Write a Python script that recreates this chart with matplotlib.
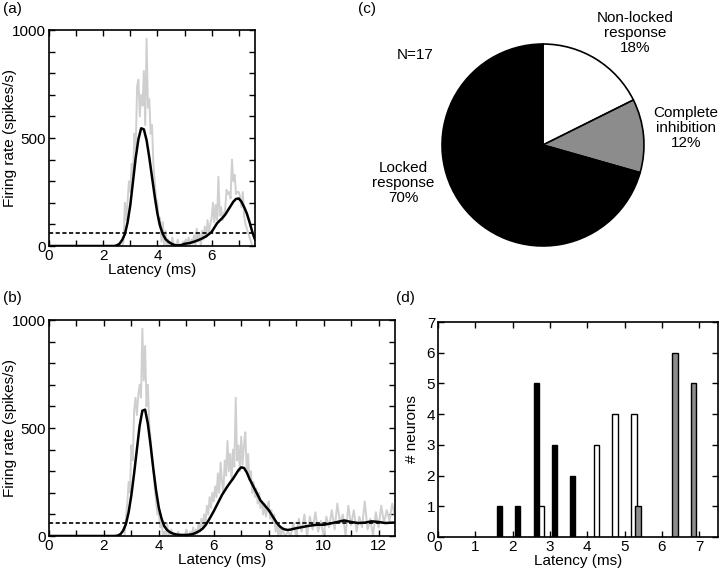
import numpy as np
import matplotlib
matplotlib.use("Agg")
import matplotlib.pyplot as plt
from matplotlib.ticker import MultipleLocator

plt.rcParams['font.family'] = ['Liberation Sans', 'DejaVu Sans']
plt.rcParams['font.size'] = 11

# ---------------- data ----------------
threshold = 60  # spikes/s (dashed line)

# (a) raw PSTH (gray), 0.05 ms bins starting at 2.70 ms
gray_a_start = 2.70
gray_a_vals = [0, 20, 200, 120, 210, 300, 250, 380, 330, 520, 450, 740, 770, 600, 700, 650,
               810, 560, 960, 640, 680, 520, 560, 380, 300, 220, 200, 100, 130, 20, 110, 0,
               70, 0, 30, 0, 0, 40, 0, 0, 0, 30, 0, 0, 0, 20, 0, 30, 0, 40, 0, 30, 10, 50,
               0, 80, 20, 60, 0, 70, 30, 90, 40, 120, 60, 100, 130, 200, 110, 190, 120, 320,
               140, 180, 120, 150, 170, 260, 240, 250, 220, 400, 300, 330, 240, 250, 250, 230,
               180, 250, 140, 100, 80, 60, 40, 20, 0, 0, 0]

# (a) smoothed rate (black)
smooth_a_t = [0, 2.4, 2.5, 2.6, 2.7, 2.8, 2.9, 3.0, 3.1, 3.2, 3.3, 3.4, 3.5, 3.6, 3.7, 3.8,
              3.9, 4.0, 4.1, 4.2, 4.3, 4.4, 4.5, 4.6, 4.7, 4.8, 4.9, 5.0, 5.2, 5.4, 5.6,
              5.8, 6.0, 6.1, 6.2, 6.3, 6.4, 6.5, 6.6, 6.7, 6.8, 6.9, 7.0, 7.1, 7.2, 7.3,
              7.4, 7.5, 7.6]
smooth_a_v = [0, 0, 3, 10, 28, 55, 110, 190, 300, 410, 495, 545, 540, 490, 410, 320,
              230, 150, 92, 55, 32, 20, 12, 6, 3, 3, 5, 10, 14, 22, 32,
              45, 65, 85, 105, 118, 130, 145, 165, 185, 205, 218, 220, 205, 180, 150,
              110, 65, 30]

# (b) raw PSTH (gray)
gray_b1_start = 2.70  # 0.05 ms bins
gray_b1_vals = [0, 0, 80, 150, 250, 200, 420, 350, 580, 640, 560, 650, 700, 640, 960, 720,
                880, 600, 700, 520, 450, 360, 300, 220, 160, 100, 110, 40, 70, 0, 20, 0,
                60, 0, 0, 30, 0, 0, 0, 0, 20, 0, 0, 0, 0, 0, 30, 0, 0, 20, 0, 40, 0, 30,
                10, 60, 20, 80, 40, 100, 60, 140, 100, 180, 130, 200, 160, 230, 180, 290,
                200, 340, 250, 200, 350, 280, 440, 300, 380, 260, 400, 320, 640, 350, 420,
                300, 460, 330, 420, 480, 300, 380, 260, 300, 200, 250, 180, 220, 150, 200,
                130, 160, 100, 150, 90, 130, 160, 80, 120, 60, 100, 20, 60, 0, 40, 0]
gray_b2_start = 8.5  # 0.1 ms bins
gray_b2_vals = [30, 0, 20, 0, 60, 0, 80, 20, 100, 0, 90, 30, 110, 20, 70, 0, 90, 40, 120,
                30, 150, 60, 100, 0, 140, 50, 120, 20, 90, 40, 160, 30, 80, 0, 110, 40, 140,
                60, 120, 70, 150, 90]

# (b) smoothed rate (black)
smooth_b_t = [0, 2.4, 2.5, 2.6, 2.7, 2.8, 2.9, 3.0, 3.1, 3.2, 3.3, 3.4, 3.5, 3.6, 3.7, 3.8,
              3.9, 4.0, 4.1, 4.2, 4.3, 4.4, 4.5, 4.6, 4.7, 4.8, 4.9, 5.0, 5.1, 5.2, 5.3,
              5.4, 5.5, 5.6, 5.7, 5.8, 5.9, 6.0, 6.1, 6.2, 6.3, 6.4, 6.5, 6.6, 6.7, 6.8,
              6.9, 7.0, 7.1, 7.2, 7.3, 7.4, 7.5, 7.6, 7.7, 7.8, 7.9, 8.0, 8.1, 8.2, 8.3,
              8.4, 8.5, 8.6, 8.7, 8.8, 8.9, 9.0, 9.25, 9.5, 9.75, 10.0, 10.25, 10.5, 10.75,
              11.0, 11.25, 11.5, 11.75, 12.0, 12.25, 12.5, 12.6]
smooth_b_v = [0, 0, 2, 8, 25, 55, 110, 190, 290, 400, 510, 580, 585, 520, 420, 310,
              210, 130, 80, 45, 28, 18, 12, 8, 6, 5, 5, 5, 6, 8, 12,
              18, 25, 35, 50, 70, 92, 115, 140, 165, 190, 210, 230, 248, 265, 285,
              305, 318, 315, 295, 265, 240, 215, 190, 165, 150, 135, 120, 100, 80, 60,
              45, 35, 30, 28, 30, 33, 36, 42, 48, 52, 52, 58, 65, 72,
              65, 60, 62, 68, 65, 60, 62, 62]

# (c) pie
pie_labels = ["Non-locked\nresponse\n18%", "Complete\ninhibition\n12%", "Locked\nresponse\n70%"]
pie_counts = [3, 2, 12]
pie_colors = ["white", "#8c8c8c", "black"]
n_total = 17

# (d) latency histogram
lat_black = [1.64, 2.13, 2.63, 3.13, 3.61]
cnt_black = [1, 1, 5, 3, 2]
lat_white = [2.77, 4.25, 4.74, 5.25]
cnt_white = [1, 3, 4, 4]
lat_gray = [5.36, 6.35, 6.85]
cnt_gray = [1, 6, 5]
bar_width = 0.14

# ---------------- figure ----------------
W, H = 720, 570
fig = plt.figure(figsize=(7.2, 5.7), dpi=100)

def rect(l, t, r, b):
    return [l / W, 1 - b / H, (r - l) / W, (b - t) / H]

def style(ax):
    ax.tick_params(direction='in', top=True, right=True, length=4, width=1,
                   which='both', labelsize=11, pad=2)
    for s in ax.spines.values():
        s.set_linewidth(1.2)

GRAY = "#cfcfcf"

# (a)
ax_a = fig.add_axes(rect(49, 30, 255, 246))
ga_t = gray_a_start + 0.05 * np.arange(len(gray_a_vals))
ax_a.plot(np.concatenate([[0], ga_t]), np.concatenate([[0], gray_a_vals]), color=GRAY, lw=1.4)
ax_a.axhline(threshold, color='black', ls=(0, (2.5, 1.5)), lw=1.2)
ax_a.plot(smooth_a_t, smooth_a_v, color='black', lw=1.8)
ax_a.set_xlim(0, 7.6)
ax_a.set_ylim(0, 1000)
ax_a.xaxis.set_major_locator(MultipleLocator(2))
ax_a.xaxis.set_minor_locator(MultipleLocator(1))
ax_a.yaxis.set_major_locator(MultipleLocator(500))
ax_a.yaxis.set_minor_locator(MultipleLocator(100))
ax_a.set_xlabel("Latency (ms)", labelpad=0)
ax_a.set_ylabel("Firing rate (spikes/s)")
ax_a.yaxis.set_label_coords((17 - 49) / 206, 0.5)
style(ax_a)

# (b)
ax_b = fig.add_axes(rect(49, 320, 395, 536))
gb_t = np.concatenate([[0], gray_b1_start + 0.05 * np.arange(len(gray_b1_vals)),
                       gray_b2_start + 0.1 * np.arange(len(gray_b2_vals))])
gb_v = np.concatenate([[0], gray_b1_vals, gray_b2_vals])
ax_b.plot(gb_t, gb_v, color=GRAY, lw=1.4)
ax_b.axhline(threshold, color='black', ls=(0, (2.5, 1.5)), lw=1.2)
ax_b.plot(smooth_b_t, smooth_b_v, color='black', lw=1.8)
ax_b.set_xlim(0, 12.6)
ax_b.set_ylim(0, 1000)
ax_b.xaxis.set_major_locator(MultipleLocator(2))
ax_b.xaxis.set_minor_locator(MultipleLocator(1))
ax_b.yaxis.set_major_locator(MultipleLocator(500))
ax_b.yaxis.set_minor_locator(MultipleLocator(100))
ax_b.set_xlabel("Latency (ms)", labelpad=0)
ax_b.set_ylabel("Firing rate (spikes/s)")
ax_b.yaxis.set_label_coords((17 - 49) / 346, 0.5)
style(ax_b)

# (c)
ax_c = fig.add_axes(rect(440, 42, 646, 248))
ax_c.pie(pie_counts, colors=pie_colors, startangle=90, counterclock=False,
         wedgeprops=dict(edgecolor='black', linewidth=1.2), radius=1)
ax_c.set_xlim(-1.02, 1.02)
ax_c.set_ylim(-1.02, 1.02)
ax_c.set_aspect('equal')
fig.text(635 / W, 1 - 33 / H, pie_labels[0], ha='center', va='center', linespacing=1.1)
fig.text(686 / W, 1 - 128 / H, pie_labels[1], ha='center', va='center', linespacing=1.1)
fig.text(403 / W, 1 - 183 / H, pie_labels[2], ha='center', va='center', linespacing=1.1)
fig.text(415 / W, 1 - 55 / H, f"N={n_total}", ha='center', va='center')

# (d)
ax_d = fig.add_axes(rect(438, 322, 718, 537))
ax_d.bar(lat_black, cnt_black, width=bar_width, color='black', edgecolor='black', lw=1)
ax_d.bar(lat_white, cnt_white, width=bar_width, color='white', edgecolor='black', lw=1)
ax_d.bar(lat_gray, cnt_gray, width=bar_width, color='#8c8c8c', edgecolor='black', lw=1)
ax_d.set_xlim(0, 7.5)
ax_d.set_ylim(0, 7)
ax_d.xaxis.set_major_locator(MultipleLocator(1))
ax_d.yaxis.set_major_locator(MultipleLocator(1))
ax_d.set_xlabel("Latency (ms)", labelpad=0)
ax_d.set_ylabel("# neurons")
ax_d.yaxis.set_label_coords((419 - 438) / 280, 0.5)
style(ax_d)

# panel labels
fig.text(3 / W, 1 - 9 / H, "(a)", ha='left', va='center')
fig.text(358 / W, 1 - 9 / H, "(c)", ha='left', va='center')
fig.text(3 / W, 1 - 298 / H, "(b)", ha='left', va='center')
fig.text(396 / W, 1 - 298 / H, "(d)", ha='left', va='center')

fig.savefig("out.png", dpi=100)
